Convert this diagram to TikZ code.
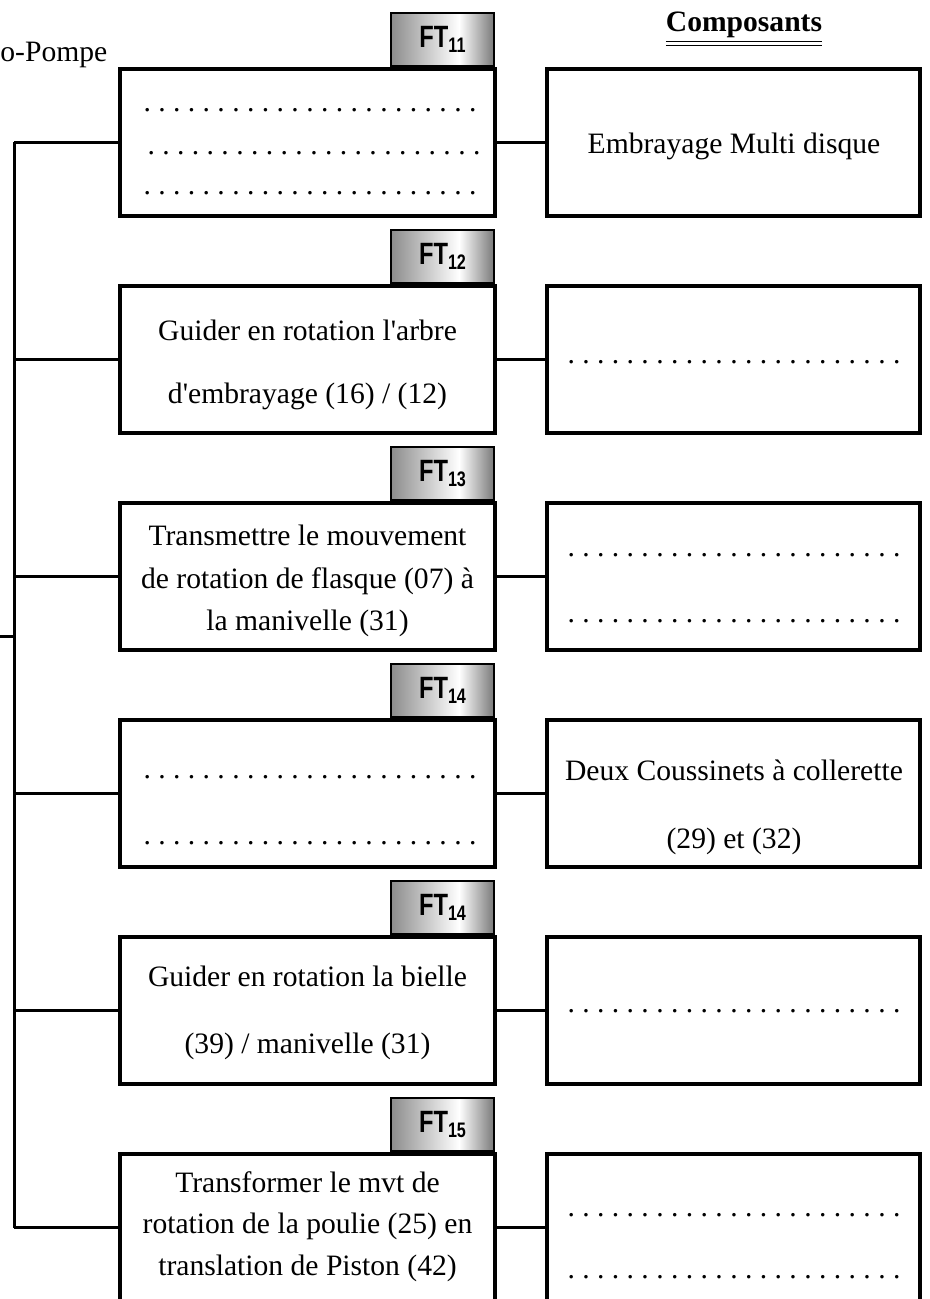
\documentclass[tikz,border=0pt]{standalone}
\usepackage{fontspec}
\setmainfont{Liberation Serif}
\newfontfamily\ftfont{Liberation Sans}
\usepackage{tikz}
\newcommand*{\FT}[1]{\scalebox{0.77}[1]{\fontsize{15.4}{18}\ftfont\bfseries FT\raisebox{-2.5pt}{\fontsize{10.5}{12}\selectfont #1}}}
\newcommand*{\Pointilles}{\foreach \k in {1,...,22}{.\ }.}
\pgfdeclarehorizontalshading{tabshade}{100bp}{color(0bp)=(gray!90); color(25bp)=(gray!90); color(58bp)=(white); color(75bp)=(gray!95!black); color(100bp)=(gray!95!black)}

\begin{document}
\begin{tikzpicture}[x=0.5pt,y=-0.5pt,
    fbox/.style={draw, line width=2pt, minimum width=187.5pt, minimum height=73.5pt, inner sep=0pt},
    comp/.style={fbox, minimum width=186.5pt},
    tab/.style={draw, line width=1pt, shade, shading=tabshade, minimum width=51.5pt, minimum height=26.5pt, inner sep=0pt},
    link/.style={line width=1.5pt},
    txt/.style={anchor=base, inner sep=0pt, font=\fontsize{14.8}{18}\selectfont}]
    \useasboundingbox (0,0) rectangle (930,1299);
    \clip (0,0) rectangle (930,1299);

    \node[txt, anchor=base west] (pompe) at (0,62) {o-Pompe};
    \node[txt, font=\fontsize{14.8}{18}\selectfont\bfseries] (titre) at (744,32) {$\underline{\underline{\mbox{Composants}}}$};

    \foreach \i/\ft in {1/11,2/12,3/13,4/14,5/14,6/15} {
        \node[fbox] (f\i) at (307.5,{142.5+217*(\i-1)}) {};
        \node[comp] (c\i) at (733.5,{142.5+217*(\i-1)}) {};
        \node[tab, anchor=south east, xshift=-1pt] (t\i) at (f\i.north east) {\FT{\ft}};
        \coordinate (s\i) at (14,{142.5+217*(\i-1)});
        \draw[link] (s\i) -- (f\i);
        \draw[link] (f\i) -- (c\i);
    }
    \draw[link] (s1) -- (s6);
    \coordinate (entree) at (0,636);
    \draw[link] (entree) -- (entree -| s1);

    % FT11
    \node[txt] (d1a) at (310,112) {\Pointilles};
    \node[txt] (d1b) at (314,155) {\Pointilles};
    \node[txt] (d1c) at (310,195) {\Pointilles};
    \node[txt] (e1) at (734,154) {Embrayage Multi disque};
    % FT12
    \node[txt] (g2a) at (307.5,340) {Guider en rotation l\textquotesingle arbre};
    \node[txt] (g2b) at (307.5,403) {d\textquotesingle embrayage (16) / (12)};
    \node[txt] (d2) at (734,363) {\Pointilles};
    % FT13
    \node[txt] (g3a) at (307.5,545) {Transmettre le mouvement};
    \node[txt] (g3b) at (307.5,588) {de rotation de flasque (07) à};
    \node[txt] (g3c) at (307.5,630) {la manivelle (31)};
    \node[txt] (d3a) at (734,556) {\Pointilles};
    \node[txt] (d3b) at (734,622) {\Pointilles};
    % FT14
    \node[txt] (d4a) at (310,778) {\Pointilles};
    \node[txt] (d4b) at (310,844) {\Pointilles};
    \node[txt] (e4a) at (734,780) {Deux Coussinets à collerette};
    \node[txt] (e4b) at (734,848) {(29) et (32)};
    % FT14 (bis)
    \node[txt] (g5a) at (307.5,986) {Guider en rotation la bielle};
    \node[txt] (g5b) at (307.5,1053) {(39) / manivelle (31)};
    \node[txt] (d5) at (734,1012) {\Pointilles};
    % FT15
    \node[txt] (g6a) at (307.5,1192) {Transformer le mvt de};
    \node[txt] (g6b) at (307.5,1233) {rotation de la poulie (25) en};
    \node[txt] (g6c) at (307.5,1275) {translation de Piston (42)};
    \node[txt] (d6a) at (734,1216) {\Pointilles};
    \node[txt] (d6b) at (734,1278) {\Pointilles};
\end{tikzpicture}
\end{document}
